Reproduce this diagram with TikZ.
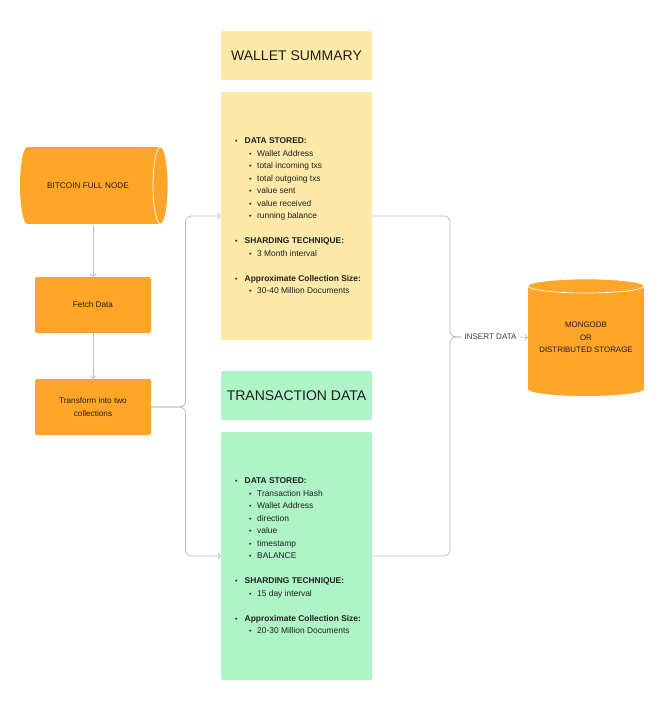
\documentclass[tikz,border=0pt]{standalone}
\usepackage{fontspec}
\setmainfont{Liberation Sans}
\usetikzlibrary{arrows.meta}
\definecolor{orng}{HTML}{FFA629}
\definecolor{ylw}{HTML}{FFE9A8}
\definecolor{grn}{HTML}{AFF4C6}
\definecolor{lgray}{HTML}{BDBDBD}
\definecolor{txt}{HTML}{1E1E1E}
\definecolor{lbltxt}{HTML}{3C3C3C}
\newcommand\wbul[1]{\makebox[9.5pt][l]{\raisebox{0.3pt}{\fontsize{7}{7}\selectfont\textbullet}}\textbf{#1}}
\newcommand\wsub[1]{\hspace*{14pt}\makebox[8pt][l]{\raisebox{0.3pt}{\fontsize{7}{7}\selectfont\textbullet}}#1}
\begin{document}
\begin{tikzpicture}[x=1pt,y=-1pt,
  obox/.style={fill=orng, rounded corners=2pt, minimum width=116pt, minimum height=56pt, inner sep=0pt, font=\fontsize{8.2}{12.5}\selectfont, text=txt, align=center},
  hbox/.style={rounded corners=2pt, minimum width=151pt, minimum height=49pt, inner sep=0pt, font=\fontsize{14}{16}\selectfont, text=txt},
  bbox/.style={rounded corners=2pt, minimum width=151pt, minimum height=248pt, inner sep=0pt},
  btext/.style={anchor=west, inner sep=0pt, align=left, font=\fontsize{8.4}{12.5}\selectfont, text=txt},
  line/.style={draw=lgray, line width=0.8pt},
  conn/.style={line, -{Straight Barb[length=2.5pt,width=6pt]}},
  lbl/.style={inner sep=3pt, font=\fontsize{8.1}{9}\selectfont, text=lbltxt}
]
\useasboundingbox (0,0) rectangle (667,702);
\fill[white] (0,0) rectangle (667,702);

% Bitcoin full node (horizontal cylinder)
\fill[orng] (27.5,147) rectangle (160.5,224);
\fill[orng] (27.5,185.5) ellipse [x radius=7.5, y radius=38.5];
\fill[orng] (160.5,185.5) ellipse [x radius=7.5, y radius=38.5];
\draw[white, line width=0.7pt] (160.5,185.5) ellipse [x radius=7.5, y radius=38.5];
\node[inner sep=0pt, minimum width=148pt, minimum height=77pt, font=\fontsize{8.2}{10}\selectfont, text=txt] (btc) at (88,185.5) {BITCOIN FULL NODE};

\node[obox] (fetch) at (93,305) {Fetch Data};
\node[obox] (tr) at (93,407) {Transform into two\\collections};

% Wallet summary
\node[hbox, fill=ylw] (wh) at (296.5,55.5) {WALLET SUMMARY};
\node[bbox, fill=ylw] (wb) at (296.5,216) {};
\node[btext] (wt) at (235,216) {%
\wbul{DATA STORED:}\\
\wsub{Wallet Address}\\
\wsub{total incoming txs}\\
\wsub{total outgoing txs}\\
\wsub{value sent}\\
\wsub{value received}\\
\wsub{running balance}\\[12.5pt]
\wbul{SHARDING TECHNIQUE:}\\
\wsub{3 Month interval}\\[12.5pt]
\wbul{Approximate Collection Size:}\\
\wsub{30-40 Million Documents}};

% Transaction data
\node[hbox, fill=grn] (th) at (296.5,395.5) {TRANSACTION DATA};
\node[bbox, fill=grn] (tb) at (296.5,556) {};
\node[btext] (tt) at (235,556) {%
\wbul{DATA STORED:}\\
\wsub{Transaction Hash}\\
\wsub{Wallet Address}\\
\wsub{direction}\\
\wsub{value}\\
\wsub{timestamp}\\
\wsub{BALANCE}\\[12.5pt]
\wbul{SHARDING TECHNIQUE:}\\
\wsub{15 day interval}\\[12.5pt]
\wbul{Approximate Collection Size:}\\
\wsub{20-30 Million Documents}};

% MongoDB cylinder
\fill[orng] (528,286) rectangle (644,389);
\fill[orng] (586,286) ellipse [x radius=58, y radius=7];
\fill[orng] (586,389) ellipse [x radius=58, y radius=7];
\draw[white, line width=0.7pt] (586,286) ellipse [x radius=58, y radius=7];
\node[inner sep=0pt, minimum width=116pt, minimum height=117pt, align=center, font=\fontsize{7.9}{12.3}\selectfont, text=txt] (mongo) at (586,337.5) {MONGODB\\OR\\DISTRIBUTED STORAGE};

% connectors
\draw[conn, shorten <=2pt] (btc.south -| fetch.north) -- (fetch.north);
\draw[conn] (fetch.south) -- (tr.north);
\draw[conn, rounded corners=6pt] (tr.east) -- (185.5,407) -- (185.5,216) -- (wb.west);
\draw[conn, rounded corners=6pt] (tr.east) -- (185.5,407) -- (185.5,556) -- (tb.west);

\node[lbl] (ins) at (490.5,337) {INSERT DATA};
\draw[line, rounded corners=6pt] (wb.east) -- (450,216) -- (450,337) -- (ins.west);
\draw[line, rounded corners=6pt] (tb.east) -- (450,556) -- (450,337) -- (ins.west);
\draw[conn] (ins.east) -- (mongo.west);
\end{tikzpicture}
\end{document}
